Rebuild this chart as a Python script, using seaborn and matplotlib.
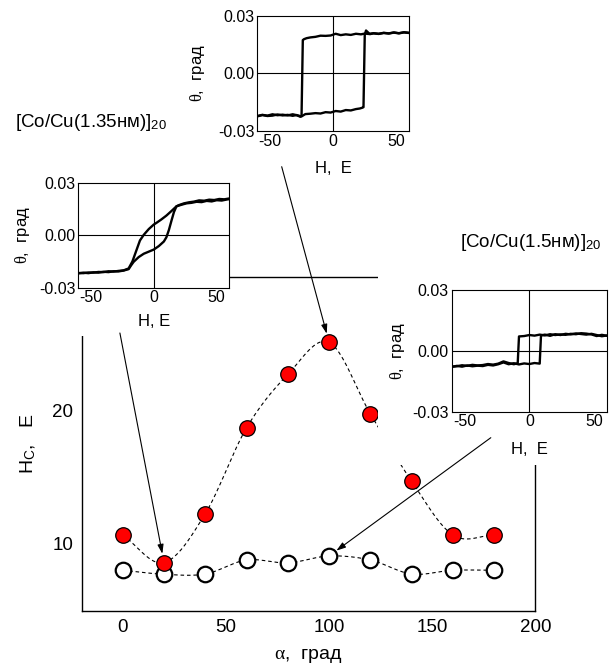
import numpy as np
import pandas as pd
import matplotlib
matplotlib.use("Agg")
import matplotlib.pyplot as plt
import seaborn as sns
from matplotlib.patches import Rectangle, ConnectionPatch
from matplotlib.ticker import MultipleLocator, FixedLocator

# ---- coercive field vs. in-plane field angle ----
alpha = [0, 20, 40, 60, 80, 100, 120, 140, 160, 180]
hc_135 = [10.67, 8.6, 12.27, 18.7, 22.7, 25.1, 19.75, 14.7, 10.67, 10.67]
hc_15 = [8.03, 7.73, 7.75, 8.8, 8.58, 9.1, 8.8, 7.75, 8.03, 8.03]

# ---- Kerr loops (H in Oe, theta in deg) ----
# 1.35 nm spacer, alpha = 100
loopA_up_H = [-60, -56, -52, -48, -44, -40, -36, -32, -28, -25, -22, -18, -14, -10, -6, -2,
              2, 6, 10, 14, 18, 21, 23, 24, 25, 26, 29, 32, 36, 40, 44, 48, 52, 56, 60]
loopA_up_T = [-0.0222, -0.0216, -0.0220, -0.0213, -0.0218, -0.0215, -0.0219, -0.0213, -0.0219,
              -0.0224, -0.0212, -0.0210, -0.0207, -0.0209, -0.0202, -0.0204,
              -0.0196, -0.0199, -0.0191, -0.0193, -0.0186, -0.0183, -0.0179, -0.0176,
              0.0200, 0.0223, 0.0204, 0.0208, 0.0205, 0.0210, 0.0207, 0.0212, 0.0208, 0.0213, 0.0210]
loopA_dn_H = [60, 56, 52, 48, 44, 40, 36, 32, 28, 25, 22, 18, 14, 10, 6, 2,
              -2, -6, -10, -14, -18, -21, -23, -24, -25, -26, -29, -32, -36, -40, -44, -48, -52, -56, -60]
loopA_dn_T = [0.0211, 0.0214, 0.0209, 0.0213, 0.0208, 0.0211, 0.0206, 0.0209, 0.0205,
              0.0207, 0.0203, 0.0206, 0.0200, 0.0203, 0.0199, 0.0206,
              0.0197, 0.0195, 0.0196, 0.0190, 0.0187, 0.0183, 0.0178, 0.0173,
              -0.0222, -0.0226, -0.0217, -0.0221, -0.0216, -0.0219, -0.0214, -0.0220, -0.0222, -0.0217, -0.0224]

# 1.35 nm spacer, alpha = 20
loopB_up_H = [-60, -56, -52, -48, -44, -40, -36, -32, -28, -24, -20, -18, -16, -12, -8, -4,
              0, 4, 8, 10, 12, 14, 16, 18, 22, 26, 30, 34, 38, 42, 46, 50, 54, 58, 60]
loopB_up_T = [-0.0218, -0.0214, -0.0217, -0.0212, -0.0214, -0.0209, -0.0211, -0.0206, -0.0207,
              -0.0202, -0.0194, -0.0172, -0.0152, -0.0125, -0.0106, -0.0094,
              -0.0082, -0.0062, -0.0036, -0.0012, 0.0030, 0.0082, 0.0132, 0.0165,
              0.0174, 0.0182, 0.0185, 0.0191, 0.0189, 0.0196, 0.0193, 0.0200, 0.0198, 0.0204, 0.0206]
loopB_dn_H = [60, 56, 52, 48, 44, 40, 36, 32, 28, 24, 20, 18, 14, 10, 6, 2,
              0, -4, -8, -11, -14, -17, -20, -24, -28, -32, -36, -40, -44, -48, -52, -56, -60]
loopB_dn_T = [0.0210, 0.0205, 0.0207, 0.0201, 0.0203, 0.0197, 0.0199, 0.0192, 0.0188,
              0.0182, 0.0172, 0.0165, 0.0138, 0.0112, 0.0090, 0.0070,
              0.0061, 0.0035, 0.0002, -0.0030, -0.0090, -0.0150, -0.0190, -0.0201,
              -0.0204, -0.0208, -0.0206, -0.0211, -0.0210, -0.0214, -0.0213, -0.0217, -0.0216]

# 1.5 nm spacer, alpha = 100
loopC_up_H = [-60, -56, -52, -48, -44, -40, -36, -32, -28, -24, -20, -16, -12, -8, -4, 0,
              4, 8, 9, 12, 16, 20, 24, 28, 32, 36, 40, 44, 48, 52, 56, 60]
loopC_up_T = [-0.0079, -0.0074, -0.0078, -0.0072, -0.0076, -0.0073, -0.0075, -0.0069,
              -0.0072, -0.0066, -0.0057, -0.0066, -0.0061, -0.0067, -0.0062, -0.0065,
              -0.0060, -0.0063, 0.0076, 0.0080, 0.0074, 0.0082, 0.0078, 0.0084,
              0.0081, 0.0086, 0.0083, 0.0080, 0.0084, 0.0078, 0.0072, 0.0076]
loopC_dn_H = [60, 56, 52, 48, 44, 40, 36, 32, 28, 24, 20, 16, 12, 8, 4, 0,
              -4, -8, -9, -12, -16, -20, -24, -28, -32, -36, -40, -44, -48, -52, -56, -60]
loopC_dn_T = [0.0074, 0.0079, 0.0073, 0.0081, 0.0085, 0.0087, 0.0082, 0.0084,
              0.0079, 0.0081, 0.0078, 0.0082, 0.0076, 0.0080, 0.0075, 0.0078,
              0.0073, 0.0071, -0.0061, -0.0066, -0.0060, -0.0052, -0.0063, -0.0068,
              -0.0065, -0.0070, -0.0072, -0.0069, -0.0074, -0.0071, -0.0076, -0.0078]

inset_xticks = [-50, 0, 50]
inset_yticks = [-0.03, 0.0, 0.03]
inset_yticklabels = ["-0.03", "0.00", "0.03"]

sns.set_theme(style="white")
plt.rcParams["font.family"] = ["Liberation Sans", "DejaVu Sans"]
plt.rcParams["mathtext.fontset"] = "custom"
plt.rcParams["mathtext.rm"] = "Liberation Sans"
plt.rcParams["mathtext.it"] = "Liberation Serif"
plt.rcParams["mathtext.bf"] = "Liberation Sans:bold"
plt.rcParams["axes.unicode_minus"] = False

W, H = 611, 671
fig = plt.figure(figsize=(W / 100, H / 100), dpi=100)
fig.patch.set_facecolor("white")


def frac(x0, y0, x1, y1):
    """Pixel box (top-left origin) -> figure fraction rect."""
    return [x0 / W, 1 - y1 / H, (x1 - x0) / W, (y1 - y0) / H]


def catmull_rom(x, y, n=24):
    x = np.asarray(x, float)
    y = np.asarray(y, float)
    px = np.concatenate([[2 * x[0] - x[1]], x, [2 * x[-1] - x[-2]]])
    py = np.concatenate([[2 * y[0] - y[1]], y, [2 * y[-1] - y[-2]]])
    xs, ys = [], []
    t = np.linspace(0, 1, n, endpoint=False)
    for i in range(1, len(px) - 2):
        for p, out in ((px, xs), (py, ys)):
            p0, p1, p2, p3 = p[i - 1], p[i], p[i + 1], p[i + 2]
            out.append(0.5 * (2 * p1 + (-p0 + p2) * t + (2 * p0 - 5 * p1 + 4 * p2 - p3) * t ** 2
                              + (-p0 + 3 * p1 - 3 * p2 + p3) * t ** 3))
    xs.append([x[-1]])
    ys.append([y[-1]])
    return np.concatenate(xs), np.concatenate(ys)


# ---- main panel ----
ax = fig.add_axes(frac(81.5, 277, 535.4, 610.7), zorder=0)
ax.set_xlim(-20, 200)
ax.set_ylim(5, 30)

dash = (0, (3.2, 2.6))
for ys in (hc_135, hc_15):
    sx, sy = catmull_rom(alpha, ys)
    ax.plot(sx, sy, color="black", lw=0.8, ls=dash, zorder=2)

df = pd.DataFrame({"alpha": alpha, "hc135": hc_135, "hc15": hc_15})
sns.scatterplot(data=df, x="alpha", y="hc15", ax=ax, s=125, color="white",
                edgecolor="black", linewidth=1.6, zorder=3)
sns.scatterplot(data=df, x="alpha", y="hc135", ax=ax, s=125, color="#ff0000",
                edgecolor="black", linewidth=0.9, zorder=4)

ax.xaxis.set_major_locator(MultipleLocator(50))
ax.xaxis.set_minor_locator(MultipleLocator(25))
ax.yaxis.set_major_locator(FixedLocator([10, 20]))
ax.yaxis.set_minor_locator(MultipleLocator(5))
ax.tick_params(which="both", direction="in", colors="black", labelsize=13.5,
               top=False, right=False, width=0.9)
ax.tick_params(which="major", length=5, pad=6)
ax.tick_params(which="minor", length=3)
for s in ax.spines.values():
    s.set_color("black")
    s.set_linewidth(1.0)
ax.set_xlabel("$\\alpha$,  град", fontsize=14, labelpad=8, color="black")
ax.set_ylabel("H$_\\mathrm{C}$,   E", fontsize=14, labelpad=10, color="black")

# white areas behind the insets and their captions
cover = [(0, 0, 230, 336), (378, 0, 611, 465)]
for x0, y0, x1, y1 in cover:
    fig.add_artist(Rectangle((x0 / W, 1 - y1 / H), (x1 - x0) / W, (y1 - y0) / H,
                             transform=fig.transFigure, facecolor="white",
                             edgecolor="none", zorder=1))


def loop_inset(box, branches, xlabel_pad, ylabel_pad, xlabel):
    a = fig.add_axes(frac(*box), zorder=2)
    a.set_facecolor("white")
    a.set_xlim(-60, 60)
    a.set_ylim(-0.03, 0.03)
    a.axhline(0, color="black", lw=0.8, zorder=1)
    a.axvline(0, color="black", lw=0.8, zorder=1)
    for hx, ty in branches:
        sns.lineplot(x=hx, y=ty, ax=a, sort=False, estimator=None,
                     color="black", lw=1.7, zorder=3)
    a.set_xticks(inset_xticks)
    a.set_xticks([-25, 25], minor=True)
    a.set_yticks(inset_yticks)
    a.set_yticklabels(inset_yticklabels)
    a.set_yticks([-0.015, 0.015], minor=True)
    a.tick_params(which="both", direction="in", colors="black", labelsize=11.5,
                  width=0.7, pad=2)
    a.tick_params(which="major", length=3)
    a.tick_params(which="minor", length=2)
    for s in a.spines.values():
        s.set_color("black")
        s.set_linewidth(0.8)
    a.set_xlabel(xlabel, fontsize=12, labelpad=xlabel_pad, color="black")
    a.set_ylabel("$\\theta$,  град", fontsize=12, labelpad=ylabel_pad, color="black")
    return a


axA = loop_inset((257.3, 15.7, 409, 131),
                 [(loopA_up_H, loopA_up_T), (loopA_dn_H, loopA_dn_T)], 9, 8, "H,  E")
axB = loop_inset((78.3, 182.7, 229.3, 287.7),
                 [(loopB_up_H, loopB_up_T), (loopB_dn_H, loopB_dn_T)], 6, 5, "H, E")
axC = loop_inset((451.7, 290, 607, 411.7),
                 [(loopC_up_H, loopC_up_T), (loopC_dn_H, loopC_dn_T)], 9, 4, "H,  E")

# sample captions
fig.text(15 / W, 1 - 127 / H, "[Co/Cu(1.35нм)]$_{20}$", fontsize=13.5, color="black",
         ha="left", va="baseline")
fig.text(460 / W, 1 - 247 / H, "[Co/Cu(1.5нм)]$_{20}$", fontsize=13.5, color="black",
         ha="left", va="baseline")

# arrows from each loop to its point
arrows = [((281.7, 166.7), (alpha[5], hc_135[5])),
          ((119.9, 333.0), (alpha[1], hc_135[1])),
          ((490.8, 437.7), (alpha[5], hc_15[5]))]
for (sx, sy), target in arrows:
    con = ConnectionPatch(xyA=(sx, H - sy), coordsA="figure pixels",
                          xyB=target, coordsB=ax.transData,
                          arrowstyle="-|>,head_length=0.55,head_width=0.18",
                          mutation_scale=10, color="black", lw=0.8,
                          shrinkA=0, shrinkB=6.5, zorder=10)
    fig.add_artist(con)

fig.savefig("out.png", dpi=100, facecolor="white")
